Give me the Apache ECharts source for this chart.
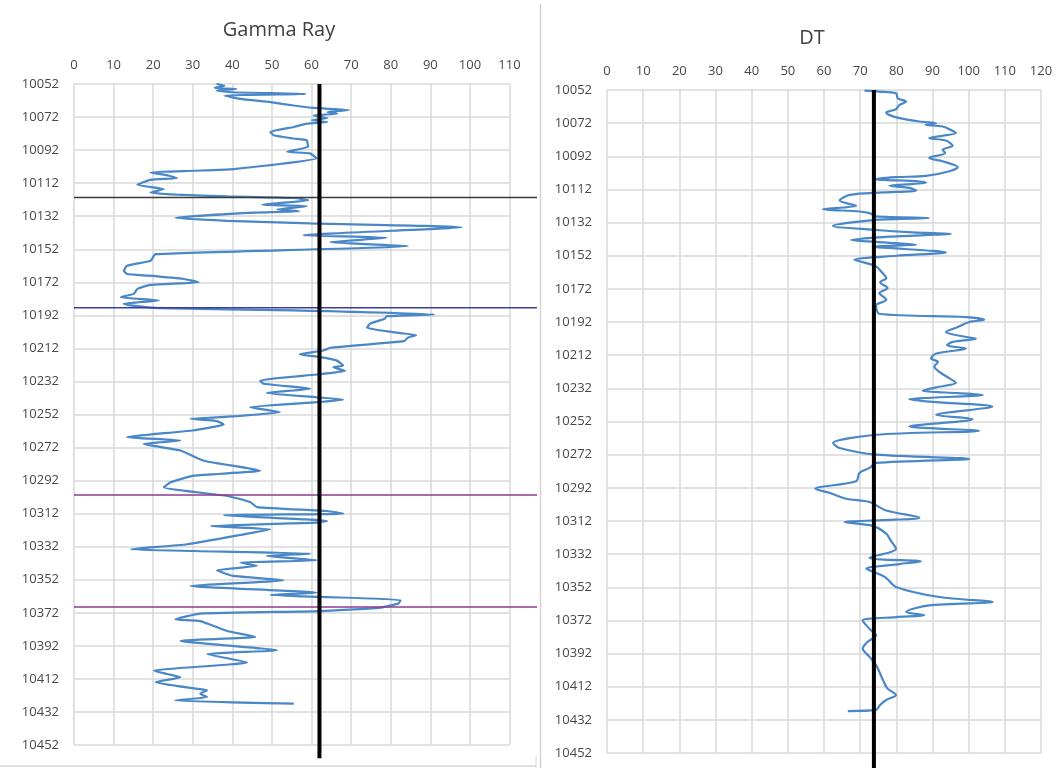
<!DOCTYPE html>
<html><head><meta charset="utf-8">
<script src="https://cdn.jsdelivr.net/npm/echarts@6/dist/echarts.min.js"></script>
<style>html,body{margin:0;padding:0;background:#fff}#c{width:1061px;height:768px}</style>
</head><body><div id="c"></div>
<script>
// ---- data ----
const DEPTH_START = 10052;
const DEPTH_END = 10452;
const DEPTH_STEP = 20;

const grDepth = [10052,10053,10054.4,10055,10056,10057,10058,10059,10061,10063,10065,10066.5,10067.8,10069,10070,10071,10072.6,10074,10075,10076,10078,10081,10083,10085,10086,10088,10090,10093,10094,10097,10103.5,10104.5,10105.5,10107.5,10109,10110,10113,10115.6,10117.7,10119,10120,10121,10122.3,10125,10126,10128,10129,10130,10133,10134.8,10136.4,10138.7,10143.5,10145.1,10147.7,10150.1,10155,10159,10162,10165,10167,10168,10170,10172,10173.6,10176,10179,10181,10183,10185,10186,10187.7,10189,10191.5,10192.5,10194,10197,10199.5,10202.6,10204,10205.5,10207.6,10211.6,10213.3,10215.5,10217.3,10219.4,10222.4,10223.4,10225.7,10227.8,10231.4,10233.4,10236.4,10239,10241.6,10243,10244.5,10247.6,10250.6,10253.6,10254.6,10256,10258,10261.7,10265.7,10267.8,10269.8,10273.8,10280,10286,10289,10293,10296,10301.3,10305,10308,10310.4,10312,10313,10316.4,10317.4,10319.5,10321.5,10324.5,10330.5,10333.6,10334.6,10336.2,10337.6,10340.2,10341.6,10343.6,10346.3,10349.7,10352.3,10355.8,10359.8,10361.2,10362.4,10364.2,10366.3,10369,10371,10372.5,10376,10377,10383,10386.6,10389,10394.7,10397,10402,10407,10409,10411,10414,10418,10418.8,10421,10423,10425,10427];
const grValue = [36,38,35.5,41,36,40,58.5,38,42,49.6,55.5,60.5,69.5,64,66.5,60.5,64,60,64,58.8,55.5,49.6,50.4,55.5,58.8,59,59.2,53.8,59.6,61.3,40.3,30.3,19.3,24,26,19.3,16,22.7,19.3,26,38.7,55.5,59.2,47.5,58.8,51.3,56.9,43.7,25.6,38.7,59.7,97.9,57.9,79,64.7,84.3,20.6,19.3,13.4,12.6,13.4,18.9,27.7,31.5,19.3,16,15.1,11.8,21.4,12.6,14.3,21.8,55.5,91,79,78.5,74.8,74,82,86.4,84.3,83.4,64.7,63,57,62.2,66.4,68,65.5,68.5,61.3,47,47.9,59.7,48.7,61.3,68,61.3,44.5,52,37,29.4,36.1,37.8,29.8,13.4,26.9,17.6,26.9,32.8,47,30.3,24.4,22.7,38.7,44.5,46.2,63.9,68,37.8,63.9,61.3,34.5,49.6,42.9,28.6,14.3,30.3,59.7,48.7,61.3,42,46.2,36.1,40.3,52.9,29.4,61.3,49.6,62.2,82.5,82,77,62,31.9,25.6,31.9,38.7,45.8,26.9,51.3,33.6,43.7,20.2,23.5,26.9,20.6,31.1,33.6,31.9,33.6,25.6,55.5];

const dtDepth = [10052.4,10053,10054,10057,10059,10061,10063.6,10065.7,10067,10069,10071,10072,10073,10074,10075.7,10078,10081,10082.5,10085.7,10088,10090,10093,10095,10098.6,10101,10103.8,10104.6,10105.8,10107.2,10108,10109.8,10111,10112.6,10113.8,10115.3,10118.7,10121.9,10123.9,10125.3,10126.3,10128.3,10129.3,10130.3,10134,10136.3,10137.9,10138.7,10140.5,10142.4,10144.4,10145.4,10146.4,10150,10152,10154.4,10156,10158.4,10162,10165.5,10168,10171.5,10174.5,10178.5,10182,10187,10189,10190.6,10192,10195,10198,10201,10202,10204,10206,10208,10211,10214,10216,10219,10222,10226,10228.6,10231.4,10233.4,10234.5,10236,10238.6,10240,10243,10248,10250.6,10255,10257.6,10260,10265,10268,10272,10274.6,10277,10280,10283,10288,10292.6,10295,10298.6,10300.6,10305.7,10310,10311.5,10312.7,10315,10319.7,10324,10328.7,10334.2,10336.4,10338,10340.8,10343,10346,10351.8,10357.9,10360.9,10362.9,10366.9,10368.9,10370,10372,10375,10378,10381,10385,10389,10394,10399,10404,10408,10413,10417,10420,10423,10426,10426.7];
const dtValue = [71.2,75.3,79.9,80.4,82.7,80.9,79.9,77.2,78,80.9,86.4,91,88,92.8,94.7,96.5,89.1,93.7,95.6,92.8,93.5,89.1,92.8,97,94.7,88.2,79.9,74,86.4,88.2,78.1,83.6,85.5,76.3,67.1,64.3,68.9,59.7,69.8,72.6,74.4,89.1,74.4,62.5,73.5,84.5,95.1,78,67.5,79.9,85.5,73.5,93.7,80,68.4,71,74.4,76,77.2,75.5,77.6,75.3,77.2,74.4,75.3,99.3,104.3,100.2,97,93.7,99.3,102,95.6,94,99.3,91,89.6,91.5,90.5,91.9,94.7,96.5,91,87.3,93.7,103.9,83.6,89.1,106.6,91,101.1,83.6,102.9,74.4,62.5,64.3,74.4,100.2,74.4,72.6,69.8,68.9,57.6,61.5,66.1,72.6,77.2,86.4,76,65.7,73.5,77.2,78.5,79.9,72.6,86.8,80.9,71.7,74,77,79.9,91.9,106.6,89.1,82.7,87.7,79.9,70.7,71.7,73,74.4,72,70.7,72.6,74.4,75.5,76.3,77.5,79.9,77.2,75.5,74.4,66.6];

const grCutoff = 62;
const dtCutoff = 73.8;
const zoneDepths = [10120.7, 10187.4, 10300.7, 10368.5];

// ---- chart ----
const chart = echarts.init(document.getElementById('c'), null, {renderer: 'canvas'});
const gridGray = '#d9d9d9';
const textGray = '#474747';
const font = 'Open Sans';
const curveColor = '#4a87c6';
const zoneColor = ['#3a3a3a', '#3c3ca0', '#8c3a8c', '#8c3a8c'];
const ZONE_LINE_RIGHT = 537; // zone markers run on to the left chart's frame edge

const toPts = (vals, deps) => deps.map((d, i) => [vals[i], d - DEPTH_START]);

function xAx(gi, max) {
  return {
    type: 'value', gridIndex: gi, position: 'top', min: 0, max: max, interval: 10,
    axisLine: {show: false}, axisTick: {show: false},
    axisLabel: {color: textGray, fontFamily: font, fontSize: 13, margin: 12},
    splitLine: {show: true, lineStyle: {color: gridGray, width: 1.5}}
  };
}
function yAx(gi) {
  return {
    type: 'value', gridIndex: gi, inverse: true, min: 0, max: DEPTH_END - DEPTH_START, interval: DEPTH_STEP,
    axisLine: {show: false}, axisTick: {show: false},
    axisLabel: {color: textGray, fontFamily: font, fontSize: 13, margin: 15,
      formatter: v => String(v + DEPTH_START)},
    splitLine: {show: true, lineStyle: {color: gridGray, width: 1.5}}
  };
}

const series = [
  {type: 'line', xAxisIndex: 0, yAxisIndex: 0, data: toPts(grValue, grDepth), showSymbol: false, smooth: 0.15,
   lineStyle: {color: curveColor, width: 2.2}, z: 3, animation: false},
  {type: 'line', xAxisIndex: 1, yAxisIndex: 1, data: toPts(dtValue, dtDepth), showSymbol: false, smooth: 0.3,
   lineStyle: {color: curveColor, width: 2.2}, z: 3, animation: false},
  {type: 'line', xAxisIndex: 0, yAxisIndex: 0, clip: false, showSymbol: false, animation: false,
   data: [[grCutoff, 0], [grCutoff, 408]], lineStyle: {color: '#000', width: 4}, z: 5},
  {type: 'line', xAxisIndex: 1, yAxisIndex: 1, clip: false, showSymbol: false, animation: false,
   data: [[dtCutoff, 0], [dtCutoff, 425]], lineStyle: {color: '#000', width: 4}, z: 5}
];

const frame = [
  {type: 'line', shape: {x1: 540.5, y1: 4, x2: 540.5, y2: 768}, style: {stroke: '#d4d4d4', lineWidth: 1.5}, silent: true},
  {type: 'line', shape: {x1: 0, y1: 766, x2: 536, y2: 766}, style: {stroke: '#d4d4d4', lineWidth: 1.5}, silent: true},
  {type: 'line', shape: {x1: 536, y1: 756, x2: 536, y2: 768}, style: {stroke: '#d4d4d4', lineWidth: 1}, silent: true}
];

chart.setOption({
  animation: false,
  backgroundColor: '#fff',
  title: [
    {text: 'Gamma Ray', left: 274, top: 15, textAlign: 'center',
     textStyle: {fontFamily: font, fontSize: 20, fontWeight: 'normal', color: '#404040'}},
    {text: 'DT', left: 807, top: 23, textAlign: 'center',
     textStyle: {fontFamily: font, fontSize: 20, fontWeight: 'normal', color: '#404040'}}
  ],
  grid: [
    {left: 74, top: 84, width: 435.5, height: 661},
    {left: 607, top: 90, width: 434, height: 663}
  ],
  xAxis: [xAx(0, 110), xAx(1, 120)],
  yAxis: [yAx(0), yAx(1)],
  series: series,
  graphic: frame
});

// zone marker lines: positioned through the Gamma Ray panel's own axes
const zoneLines = zoneDepths.map((d, i) => {
  const p0 = chart.convertToPixel({xAxisIndex: 0, yAxisIndex: 0}, [0, d - DEPTH_START]);
  return {type: 'line', z: 4, silent: true,
    shape: {x1: p0[0], y1: p0[1], x2: ZONE_LINE_RIGHT, y2: p0[1]},
    style: {stroke: zoneColor[i], lineWidth: 1.5}};
});
chart.setOption({graphic: frame.concat(zoneLines)});
</script></body></html>
